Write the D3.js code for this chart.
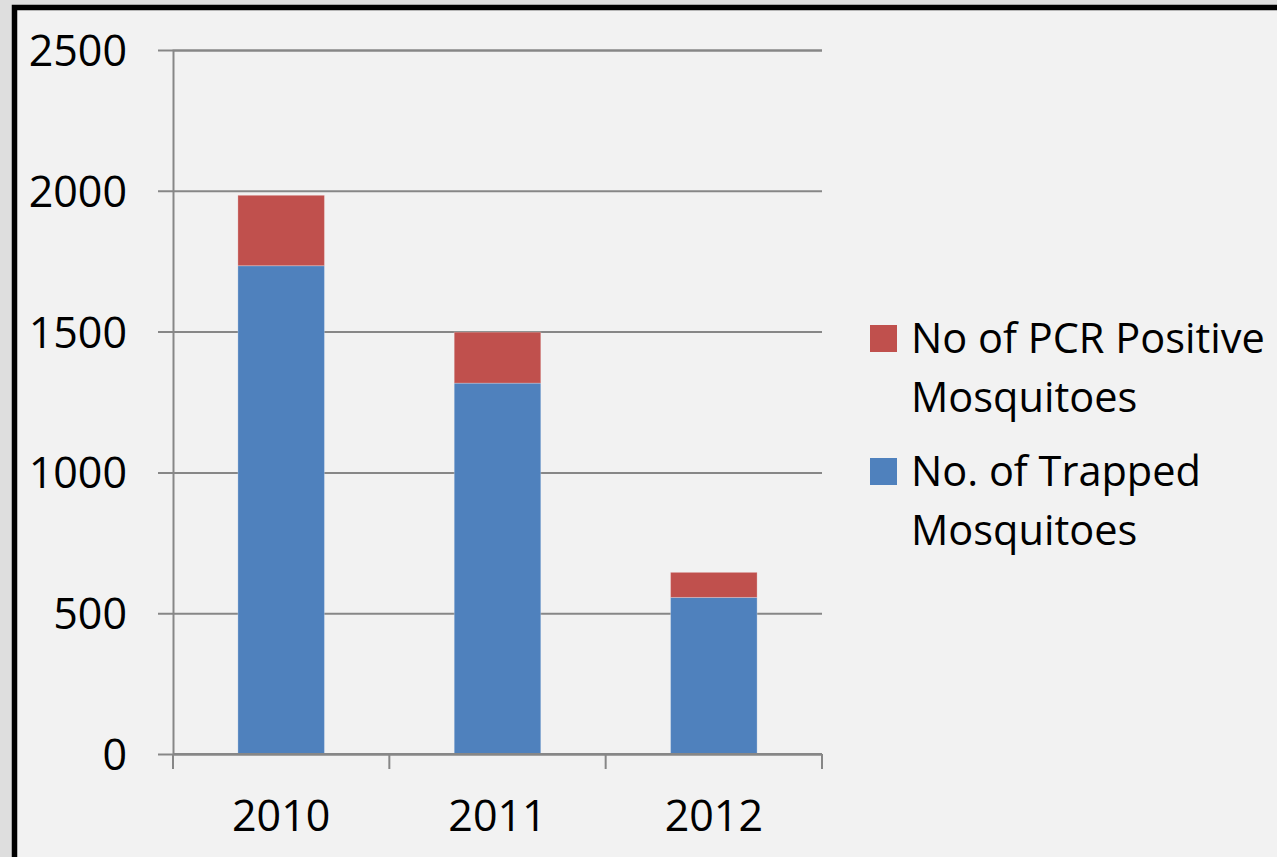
<!DOCTYPE html>
<html>
<head>
<meta charset="utf-8">
<script src="https://cdn.jsdelivr.net/npm/d3@7"></script>
<style>
  body { margin: 0; background: #dedede; }
  svg { display: block; font-family: "Open Sans", sans-serif; }
</style>
</head>
<body>
<svg width="1277" height="857"></svg>
<script>
const years = ["2010", "2011", "2012"];
const trapped = [1734, 1317, 556];
const pcrPositive = [250, 181, 89];
const yTicks = [0, 500, 1000, 1500, 2000, 2500];
const legendLabels = [
  ["No of PCR Positive", "Mosquitoes"],
  ["No. of Trapped", "Mosquitoes"]
];

const svg = d3.select("svg");
const width = +svg.attr("width");
const height = +svg.attr("height");
const margin = { top: 50, right: 455, bottom: 103, left: 173 };

const colors = { trapped: "#4f81bd", positive: "#c0504d", grid: "#878787" };

// frame
svg.append("rect")
  .attr("x", 14.5)
  .attr("y", 7.5)
  .attr("width", width + 20)
  .attr("height", height + 20)
  .attr("fill", "#f2f2f2")
  .attr("stroke", "#000")
  .attr("stroke-width", 5.5);

const x = d3.scaleBand()
  .domain(years)
  .range([margin.left, width - margin.right])
  .paddingInner(0.6)
  .paddingOuter(0.3);

const y = d3.scaleLinear()
  .domain([0, 2500])
  .range([height - margin.bottom, margin.top]);

// y axis + gridlines
const yAxis = svg.append("g")
  .attr("transform", `translate(${margin.left},0)`)
  .call(d3.axisLeft(y)
    .tickValues(yTicks)
    .tickFormat(d3.format("d"))
    .tickSize(-(width - margin.right - margin.left))
    .tickPadding(46));

yAxis.select(".domain").attr("stroke", colors.grid).attr("stroke-width", 2);
yAxis.selectAll(".tick line")
  .attr("x1", -15)
  .attr("stroke", colors.grid)
  .attr("stroke-width", 2);
yAxis.selectAll(".tick text")
  .attr("font-size", 43)
  .attr("font-family", "Open Sans, sans-serif")
  .attr("fill", "#000")
  .attr("dy", "0.36em");

// stacked bars
const stackData = years.map((yr, i) => ({ year: yr, trapped: trapped[i], positive: pcrPositive[i] }));
const series = d3.stack().keys(["trapped", "positive"])(stackData);

svg.append("g")
  .selectAll("g")
  .data(series)
  .join("g")
  .attr("fill", d => colors[d.key])
  .selectAll("rect")
  .data(d => d)
  .join("rect")
  .attr("x", d => x(d.data.year))
  .attr("y", d => y(d[1]))
  .attr("width", x.bandwidth())
  .attr("height", d => y(d[0]) - y(d[1]))
  .attr("stroke", "rgba(255,255,255,0.25)")
  .attr("stroke-width", 1);

// x axis
const x0 = x.range()[0];
const step = x.step();
const xAxis = svg.append("g")
  .attr("transform", `translate(0,${y(0)})`);

xAxis.append("line")
  .attr("x1", x.range()[0])
  .attr("x2", x.range()[1])
  .attr("stroke", colors.grid)
  .attr("stroke-width", 2);

xAxis.selectAll(".bound")
  .data(d3.range(years.length + 1))
  .join("line")
  .attr("class", "bound")
  .attr("x1", i => x0 + i * step)
  .attr("x2", i => x0 + i * step)
  .attr("y1", 0)
  .attr("y2", 15)
  .attr("stroke", colors.grid)
  .attr("stroke-width", 2);

xAxis.selectAll(".lbl")
  .data(years)
  .join("text")
  .attr("class", "lbl")
  .attr("x", d => x(d) + x.bandwidth() / 2)
  .attr("y", 77)
  .attr("text-anchor", "middle")
  .attr("font-size", 43)
  .attr("fill", "#000")
  .text(d => d);

// legend
const legend = svg.append("g").attr("transform", "translate(870,325)");
const legendColors = [colors.positive, colors.trapped];

legendLabels.forEach((lines, i) => {
  const g = legend.append("g").attr("transform", `translate(0,${i * 133})`);
  g.append("rect")
    .attr("width", 27)
    .attr("height", 27)
    .attr("fill", legendColors[i]);
  lines.forEach((t, j) => {
    g.append("text")
      .attr("x", 41)
      .attr("y", 28 + j * 59)
      .attr("font-size", 41.5)
      .attr("fill", "#000")
      .text(t);
  });
});
</script>
</body>
</html>
